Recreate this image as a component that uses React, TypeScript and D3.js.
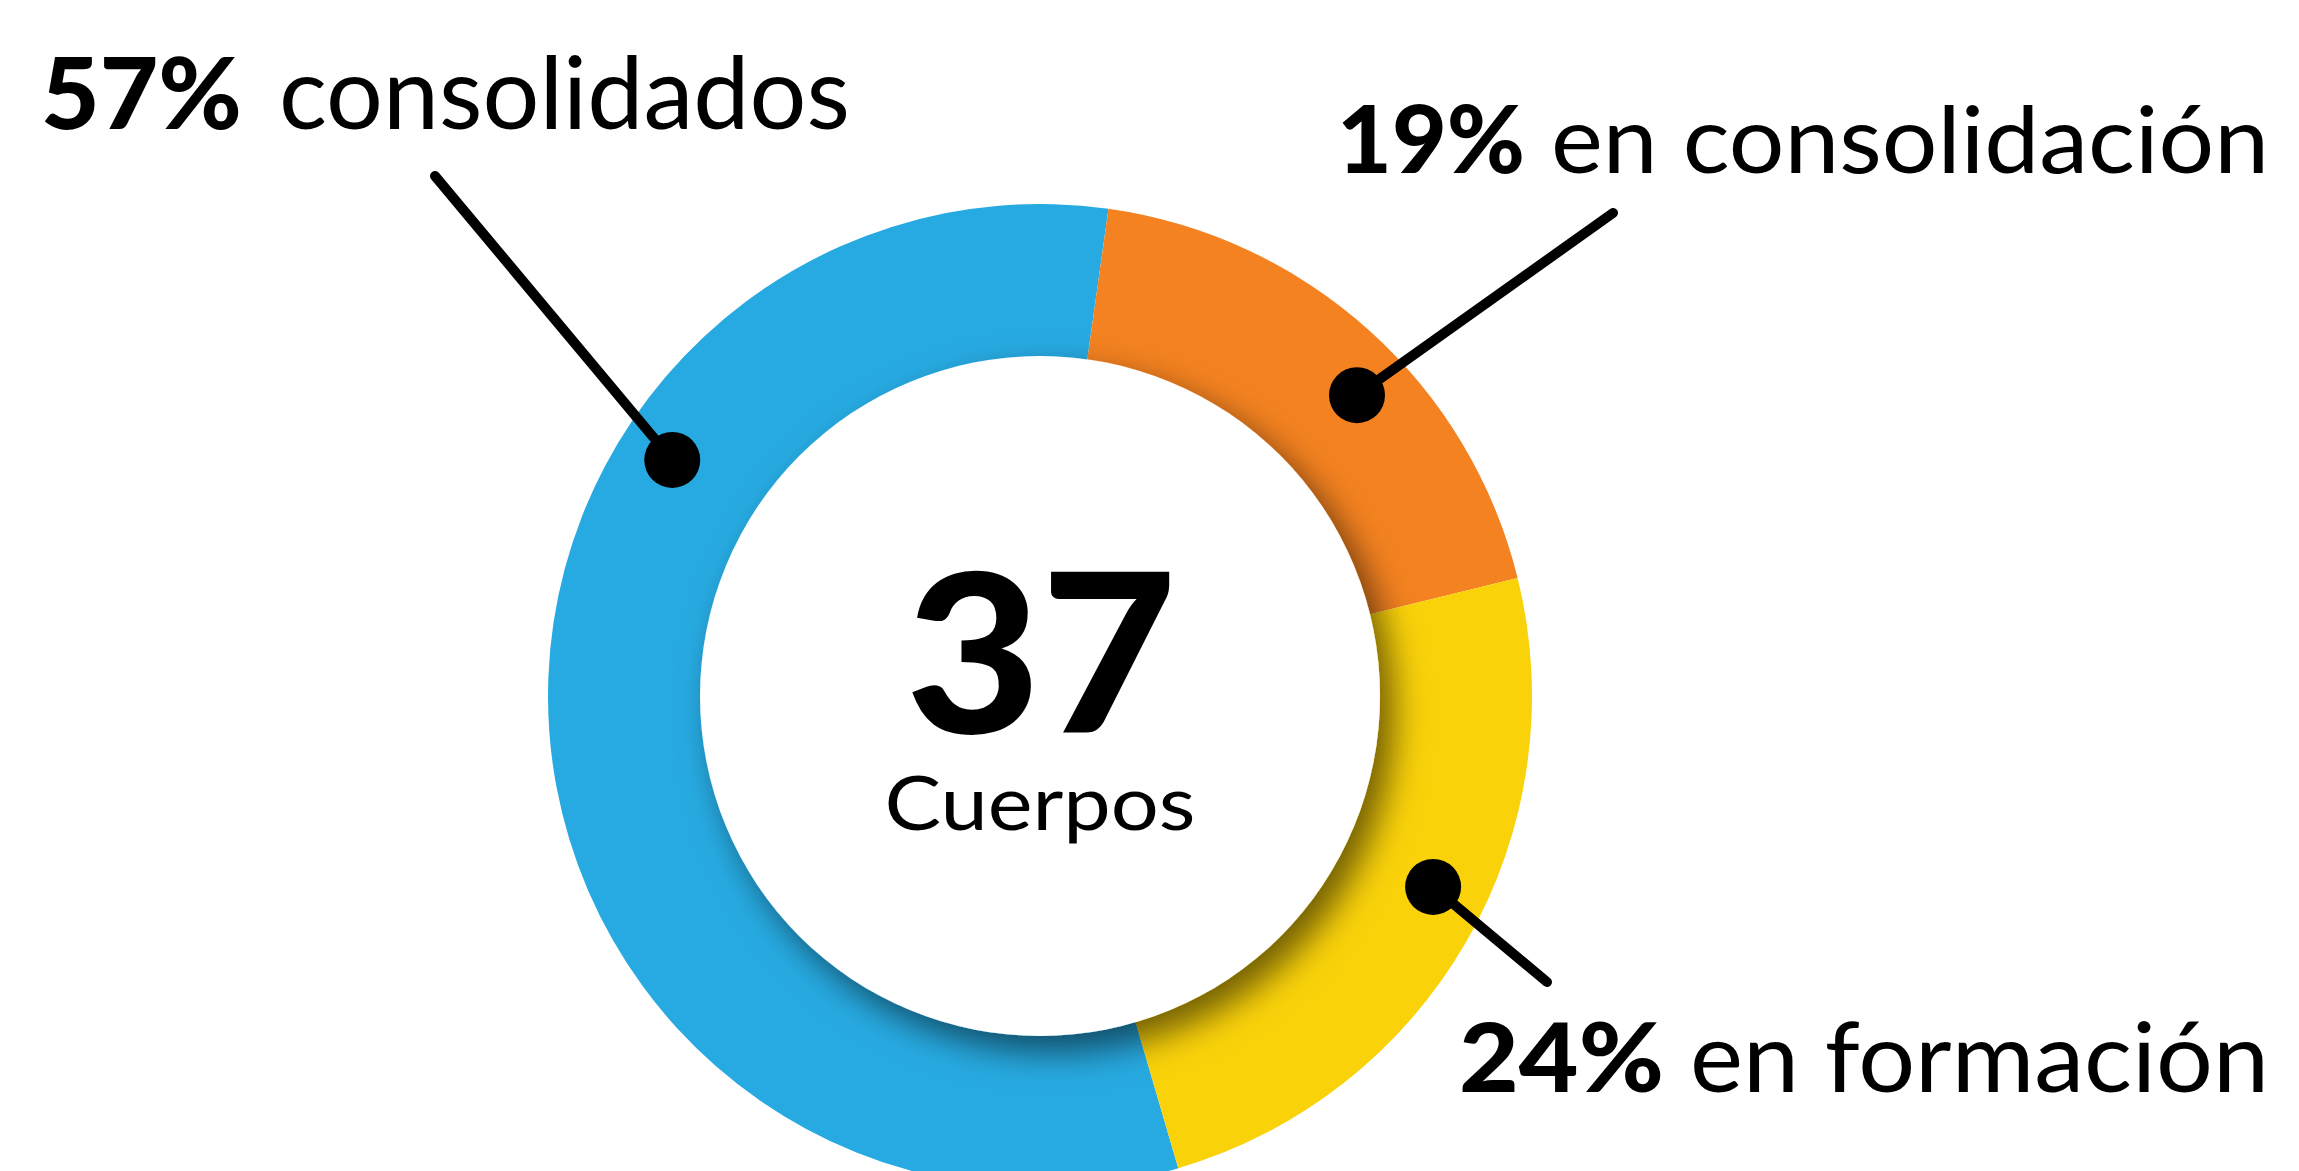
import React from "react";
import * as d3 from "d3";

// ---- data ----
const categories = ["consolidados", "en consolidación", "en formación"];
const values = [21, 7, 9];
const percentLabels = ["57%", "19%", "24%"];
const totalLabel = "37";
const totalCaption = "Cuerpos";

// ---- styling / layout ----
const colors = ["#27AAE1", "#F48220", "#FAD20A"];
const W = 2299;
const H = 1171;
const CX = 1040;
const CY = 696;
const R_OUT = 492;
const R_IN = 340;
const FIRST_BOUNDARY_DEG = 8; // where "consolidados" ends (clockwise from top)
const DOT_R = 28;
const DOT_RADIUS = 437;
const dotAngles = [-57.3, 46.5, 115.9];
const lineEnds = [
  [435, 176],
  [1613, 213],
  [1547, 982],
];
const labelLayout = [
  { anchor: "start", x: 41, boldW: 201, gap: 37, regW: 571, baseline: 129, size: 100 },
  { anchor: "end", x: 2269, boldW: 188, gap: 26, regW: 718, baseline: 173, size: 94 },
  { anchor: "end", x: 2269, boldW: 205, gap: 26, regW: 579, baseline: 1092, size: 96 },
];
const FONT = "Lato, 'Open Sans', 'Noto Sans', sans-serif";

export default function App() {
  const total = d3.sum(values);
  const rad = (d: number) => (d * Math.PI) / 180;
  const start = rad(FIRST_BOUNDARY_DEG) - (2 * Math.PI * values[0]) / total;
  const pie = d3
    .pie<number>()
    .sort(null)
    .startAngle(start)
    .endAngle(start + 2 * Math.PI);
  const arcs = pie(values);
  const arcGen = d3.arc<d3.PieArcDatum<number>>().innerRadius(R_IN - 2).outerRadius(R_OUT);

  return (
    <svg
      width={W}
      height={H}
      style={{ position: "absolute", left: 0, top: 0, background: "#fff" }}
    >
      <defs>
        <filter id="innerShadow" x="-30%" y="-30%" width="160%" height="160%">
          <feDropShadow dx="14" dy="16" stdDeviation="17" floodColor="#000" floodOpacity="0.55" />
        </filter>
      </defs>
      <rect x={0} y={0} width={W} height={H} fill="#fff" />
      <g transform={`translate(${CX},${CY})`}>
        {arcs.map((a, i) => (
          <path key={categories[i]} d={arcGen(a) || ""} fill={colors[i]} />
        ))}
        <circle r={R_IN} fill="#fff" filter="url(#innerShadow)" />
      </g>

      {/* leader lines and dots */}
      {categories.map((c, i) => {
        const ang = rad(dotAngles[i]);
        const dx = CX + DOT_RADIUS * Math.sin(ang);
        const dy = CY - DOT_RADIUS * Math.cos(ang);
        return (
          <g key={"lead-" + c}>
            <line
              x1={dx}
              y1={dy}
              x2={lineEnds[i][0]}
              y2={lineEnds[i][1]}
              stroke="#000"
              strokeWidth={10}
              strokeLinecap="round"
            />
            <circle cx={dx} cy={dy} r={DOT_R} fill="#000" />
          </g>
        );
      })}

      {/* labels */}
      {categories.map((c, i) => {
        const L = labelLayout[i];
        let boldX: number, regX: number;
        if (L.anchor === "start") {
          boldX = L.x;
          regX = L.x + L.boldW + L.gap;
        } else {
          regX = L.x - L.regW;
          boldX = regX - L.gap - L.boldW;
        }
        return (
          <g key={"lab-" + c} fontFamily={FONT} fill="#000">
            <text
              x={boldX}
              y={L.baseline}
              fontSize={L.size}
              fontWeight={900}
              textLength={L.boldW}
              lengthAdjust="spacingAndGlyphs"
            >
              {percentLabels[i]}
            </text>
            <text
              x={regX}
              y={L.baseline}
              fontSize={L.size}
              fontWeight={400}
              textLength={L.regW}
              lengthAdjust="spacingAndGlyphs"
            >
              {c}
            </text>
          </g>
        );
      })}

      {/* center */}
      <text
        x={CX + 1}
        y={733}
        textAnchor="middle"
        fontFamily={FONT}
        fontWeight={900}
        fontSize={222}
        textLength={271}
        lengthAdjust="spacingAndGlyphs"
      >
        {totalLabel}
      </text>
      <text
        x={CX}
        y={830}
        textAnchor="middle"
        fontFamily={FONT}
        fontWeight={400}
        fontSize={76}
        textLength={311}
        lengthAdjust="spacingAndGlyphs"
      >
        {totalCaption}
      </text>
    </svg>
  );
}
